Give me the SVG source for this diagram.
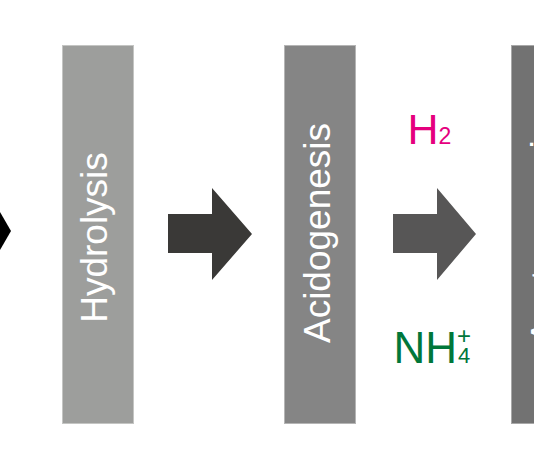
<svg xmlns="http://www.w3.org/2000/svg" width="534" height="462" viewBox="0 0 534 462">
<style>
.lbl{font-family:"Liberation Sans",Arial,sans-serif;font-size:37px;fill:#ffffff}
.chem{font-family:"Liberation Sans",Arial,sans-serif}
</style>
<rect width="534" height="462" fill="#ffffff"/>
<g id="connectors">
<polygon id="arrow0" points="0,212 11,231 0,250" fill="#000000"/>
<polygon id="arrow1" points="168,214 212,214 212,188 252,234 212,280 212,253 168,253" fill="#3a3937"/>
<polygon id="arrow2" points="393,214 437,214 437,188 476,234 437,280 437,253 393,253" fill="#575656"/>
</g>
<g id="hydrolysis">
<rect x="62.5" y="45.5" width="71" height="378" fill="#9d9e9c" stroke="#c4c5c3" stroke-width="1"/>
<text class="lbl" text-anchor="middle" transform="translate(107,237.5) rotate(-90)">Hydrolysis</text>
</g>
<g id="acidogenesis">
<rect x="284.5" y="45.5" width="71" height="378" fill="#858585" stroke="#b5b5b5" stroke-width="1"/>
<text class="lbl" text-anchor="middle" transform="translate(329.5,233) rotate(-90)">Acidogenesis</text>
</g>
<g id="acetogenesis">
<rect x="511.5" y="45.5" width="71" height="378" fill="#727272" stroke="#a8a8a8" stroke-width="1"/>
<text class="lbl" transform="translate(556.5,344) rotate(-90)">Acetogenesis</text>
</g>
<g id="h2" fill="#e5007e">
<text class="chem" x="407.5" y="144" font-size="43">H</text>
<text class="chem" x="438.5" y="144" font-size="23">2</text>
</g>
<g id="nh4" fill="#00773a">
<text class="chem" x="393.5" y="363" font-size="44">NH</text>
<text class="chem" x="457" y="344" font-size="24">+</text>
<text class="chem" x="458" y="363" font-size="22">4</text>
</g>
</svg>
